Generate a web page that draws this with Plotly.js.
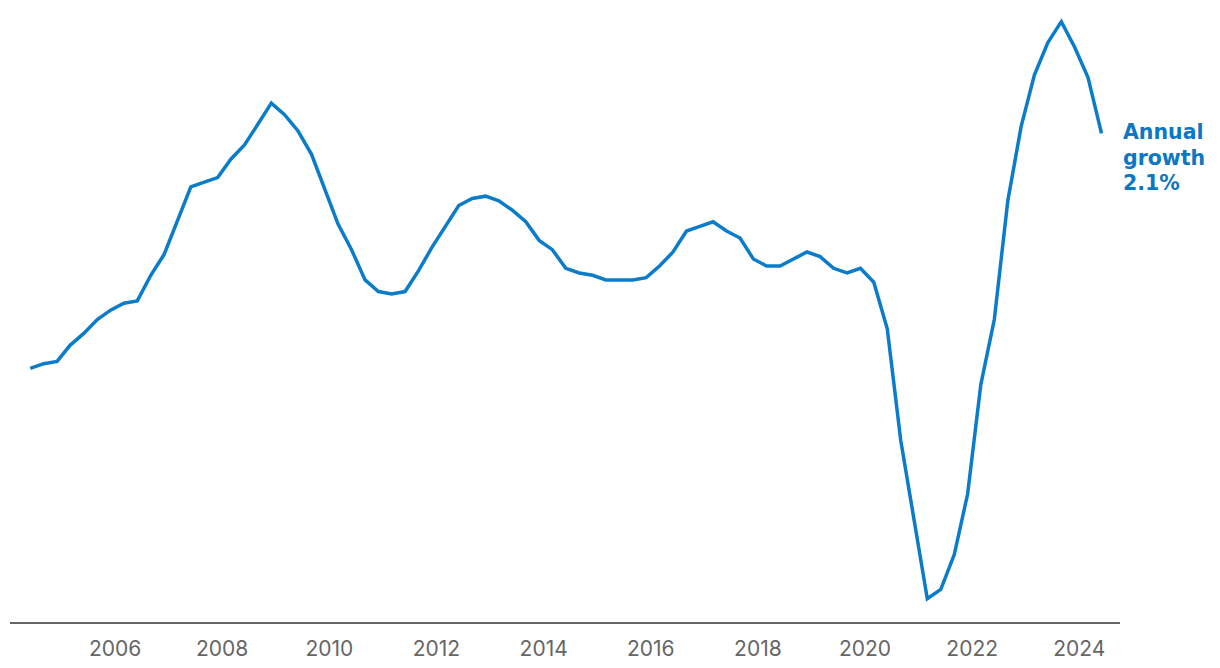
<!DOCTYPE html>
<html>
<head>
<meta charset="utf-8">
<script src="https://cdn.plot.ly/plotly-3.0.1.min.js"></script>
<style>html,body{margin:0;padding:0;background:#fff;}#chart{width:1220px;height:668px;}</style>
</head>
<body>
<div id="chart"></div>
<script>
// Quarterly observations (June 2004 – June 2024)
const quarters = [
"2004-06-01","2004-09-01","2004-12-01","2005-03-01","2005-06-01","2005-09-01","2005-12-01","2006-03-01",
"2006-06-01","2006-09-01","2006-12-01","2007-03-01","2007-06-01","2007-09-01","2007-12-01","2008-03-01",
"2008-06-01","2008-09-01","2008-12-01","2009-03-01","2009-06-01","2009-09-01","2009-12-01","2010-03-01",
"2010-06-01","2010-09-01","2010-12-01","2011-03-01","2011-06-01","2011-09-01","2011-12-01","2012-03-01",
"2012-06-01","2012-09-01","2012-12-01","2013-03-01","2013-06-01","2013-09-01","2013-12-01","2014-03-01",
"2014-06-01","2014-09-01","2014-12-01","2015-03-01","2015-06-01","2015-09-01","2015-12-01","2016-03-01",
"2016-06-01","2016-09-01","2016-12-01","2017-03-01","2017-06-01","2017-09-01","2017-12-01","2018-03-01",
"2018-06-01","2018-09-01","2018-12-01","2019-03-01","2019-06-01","2019-09-01","2019-12-01","2020-03-01",
"2020-06-01","2020-09-01","2020-12-01","2021-03-01","2021-06-01","2021-09-01","2021-12-01","2022-03-01",
"2022-06-01","2022-09-01","2022-12-01","2023-03-01","2023-06-01","2023-09-01","2023-12-01","2024-03-01",
"2024-06-01"
];
// Annual growth, %
const annualGrowth = [
1.09,1.11,1.12,1.19,1.24,1.30,1.34,1.37,
1.38,1.49,1.58,1.72,1.87,1.89,1.91,1.99,
2.05,2.14,2.23,2.18,2.11,2.01,1.86,1.71,
1.60,1.47,1.42,1.41,1.42,1.51,1.61,1.70,
1.79,1.82,1.83,1.81,1.77,1.72,1.64,1.60,
1.52,1.50,1.49,1.47,1.47,1.47,1.48,1.53,
1.59,1.68,1.70,1.72,1.68,1.65,1.56,1.53,
1.53,1.56,1.59,1.57,1.52,1.50,1.52,1.46,
1.26,0.78,0.44,0.10,0.14,0.29,0.55,1.02,
1.30,1.81,2.13,2.35,2.49,2.58,2.47,2.34,
2.10
];
const tickDates = ["2006-01-01","2008-01-01","2010-01-01","2012-01-01","2014-01-01","2016-01-01","2018-01-01","2020-01-01","2022-01-01","2024-01-01"];
const tickLabels = ["2006","2008","2010","2012","2014","2016","2018","2020","2022","2024"];
const endLabelLines = ["Annual", "growth", "2.1%"];

const blue = "#0A7CC9";
const trace = {
  x: quarters, y: annualGrowth, type: "scatter", mode: "lines",
  line: {color: blue, width: 3.5, shape: "linear"},
  hoverinfo: "x+y"
};
const last = quarters.length - 1;
const lineShifts = [1, -24.5, -50];
const annotations = endLabelLines.map((t, i) => ({
  x: quarters[last], y: annualGrowth[last], xref: "x", yref: "y",
  text: t, showarrow: false, xanchor: "left", yanchor: "middle",
  align: "left", xshift: 19, yshift: lineShifts[i],
  font: {size: 20.5, color: "#0B77C5", family: "'DejaVu Sans', sans-serif", weight: 700}
}));
const layout = {
  width: 1220, height: 668,
  margin: {l: 10, r: 100, t: 10, b: 46},
  paper_bgcolor: "#fff", plot_bgcolor: "#fff",
  showlegend: false,
  font: {family: "Inter, 'Noto Sans', sans-serif"},
  xaxis: {
    type: "date",
    range: ["2004-01-15", "2024-10-05"],
    tickmode: "array", tickvals: tickDates, ticktext: tickLabels,
    showgrid: false, zeroline: false,
    showline: true, linecolor: "#666666", linewidth: 2,
    ticks: "outside", ticklen: 7, tickcolor: "rgba(0,0,0,0)",
    tickfont: {size: 21, color: "#666666", family: "Inter, 'Noto Sans', sans-serif"}
  },
  yaxis: {
    range: [0, 2.63], visible: false, showgrid: false, zeroline: false, fixedrange: true
  },
  annotations: annotations
};
Plotly.newPlot("chart", [trace], layout, {displayModeBar: false, staticPlot: true});
</script>
</body>
</html>
